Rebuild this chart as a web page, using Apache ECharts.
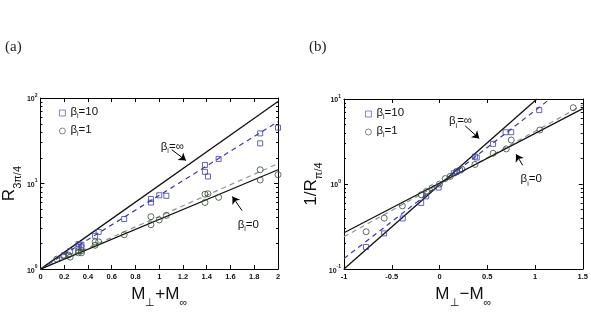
<!DOCTYPE html>
<html><head><meta charset="utf-8">
<script src="https://cdn.jsdelivr.net/npm/echarts@6/dist/echarts.min.js"></script>
<style>html,body{margin:0;padding:0;background:#fff}#c{width:591px;height:313px}</style>
</head><body><div id="c"></div>
<script>
// ---------- Panel (a) data : x = M_perp + M_inf, y = R_{3pi/4} ----------
const aSquares = [[2,45],[1.85,38.6],[1.85,29.5],[1.5,19.4],[1.385,16.5],[1.385,13.7],[1.41,12.1],
  [0.93,6.6],[0.93,6.0],[1.0,7.3],[1.06,7.2],[0.705,3.85],[0.46,2.45],[0.49,2.72],
  [0.32,1.96],[0.345,1.93],[0.32,1.8],[0.345,1.8],[0.25,1.62],[0.2,1.45]];
const aCircles = [[2,12.7],[1.85,14.5],[1.85,11.0],[1.5,6.9],[1.385,7.5],[1.41,7.6],[1.385,6.0],
  [1.06,4.25],[1.0,3.75],[0.93,4.1],[0.93,3.3],[0.705,2.52],[0.46,2.08],[0.49,2.08],[0.46,1.9],
  [0.32,1.64],[0.345,1.64],[0.345,1.55],[0.32,1.55],[0.235,1.46],[0.193,1.43],[0.137,1.31],[0.25,1.38]];
const aLineInf = [[0,1],[2,91]];
const aLine10  = [[0,1],[2,53]];
const aLine1   = [[0,1],[2,17.1]];
const aLine0   = [[0,1],[2,14.5]];
const aXTicks = [0,0.2,0.4,0.6,0.8,1,1.2,1.4,1.6,1.8,2];
const aYTicks = [1,10,100];
const aYMinor = [2,3,4,5,6,7,8,9,20,30,40,50,60,70,80,90];

// ---------- Panel (b) data : x = M_perp - M_inf, y = 1/R_{pi/4} ----------
const bSquares = [[1.044,7.4],[0.692,4.07],[0.751,4.07],[0.561,2.97],[0.371,2.1],[0.39,2.05],
  [0.215,1.45],[0.18,1.4],[0.15,1.34],[-0.009,0.91],[-0.14,0.716],[-0.192,0.6],[-0.385,0.394],
  [-0.58,0.263],[-0.77,0.182]];
const bCircles = [[1.4,7.9],[1.05,4.32],[0.751,3.29],[0.699,2.59],[0.561,2.3],[0.371,1.7],[0.233,1.5],
  [0.18,1.4],[0.112,1.23],[0.06,1.16],[0,1.0],[-0.078,0.9],[-0.137,0.82],[-0.192,0.748],
  [-0.389,0.554],[-0.579,0.397],[-0.768,0.275]];
const bLineInf = [[-1,0.1],[1.02,10]];
const bLine10  = [[-1,0.133],[1.155,10]];
const bLine1   = [[-1,0.24],[1.5,8.5]];
const bLine0   = [[-1,0.268],[1.5,7.7]];
const bXTicks = [-1,-0.5,0,0.5,1,1.5];
const bYTicks = [0.1,1,10];
const bYMinor = [0.2,0.3,0.4,0.5,0.6,0.7,0.8,0.9,2,3,4,5,6,7,8,9];

// annotations (data coordinates): label, label position, arrow start, arrow tip
const aNotes = [
  {sym:'∞', at:[1.11,30], from:[1.105,24.9], to:[1.225,18.6]},
  {sym:'0', at:[1.75,3.7], from:[1.697,4.83], to:[1.616,7.06]}];
const bNotes = [
  {sym:'∞', at:[0.22,6.1], from:[0.268,4.84], to:[0.416,3.43]},
  {sym:'0', at:[0.96,1.27], from:[0.871,1.66], to:[0.802,2.24]}];

const BLUE = '#3f3fa8', BLUEL = '#3a3ab4', GRN = '#344a34', GRAY = '#8c988c', BLK = '#111';
const FONT = 'Liberation Sans, Arial, sans-serif';

const chart = echarts.init(document.getElementById('c'), null, {renderer:'canvas'});

const betaRich = {
  b:{fontSize:11.5, fontFamily:FONT, color:'#111', verticalAlign:'top', lineHeight:14},
  i:{fontSize:7, fontFamily:FONT, color:'#111', verticalAlign:'bottom', lineHeight:14},
  e:{fontSize:11.5, fontFamily:FONT, color:'#111', verticalAlign:'top', lineHeight:14}
};
const tickRich = {
  m:{fontSize:7, fontFamily:FONT, fontWeight:'bold', color:'#111', verticalAlign:'bottom', lineHeight:10},
  p:{fontSize:5, fontFamily:FONT, fontWeight:'bold', color:'#111', verticalAlign:'top', lineHeight:10}
};
const expFmt = v => '{m|10}{p|' + Math.round(Math.log10(v)) + '}';

function xAxes(grid, min, max, ticks, name) {
  return [
    {gridIndex:grid, type:'value', position:'bottom', min, max,
     axisLine:{show:true, onZero:false, lineStyle:{color:'#000', width:1}},
     axisTick:{show:true, inside:true, length:4, customValues:ticks, lineStyle:{color:'#000'}},
     axisLabel:{show:true, customValues:ticks, margin:4, fontSize:7.5, fontWeight:'bold', fontFamily:FONT, color:'#111'},
     splitLine:{show:false},
     name, nameLocation:'middle', nameGap:9,
     nameTextStyle:{rich:{
       M:{fontSize:17, fontFamily:FONT, color:'#111', verticalAlign:'top', lineHeight:22},
       s:{fontSize:11, fontFamily:FONT, color:'#111', verticalAlign:'bottom', lineHeight:22}}}},
    {gridIndex:grid, type:'value', position:'top', min, max,
     axisLine:{show:true, onZero:false, lineStyle:{color:'#000', width:1}},
     axisTick:{show:true, inside:true, length:4, customValues:ticks, lineStyle:{color:'#000'}},
     axisLabel:{show:false}, splitLine:{show:false}}
  ];
}
function yAxes(grid, min, max, ticks, minor, name, gap) {
  const base = {gridIndex:grid, type:'log', logBase:10, min, max, splitLine:{show:false}};
  return [
    Object.assign({}, base, {position:'left',
      axisLine:{show:true, onZero:false, lineStyle:{color:'#000', width:1}},
      axisTick:{show:true, inside:true, length:4, customValues:ticks, lineStyle:{color:'#000'}},
      axisLabel:{show:true, customValues:ticks, margin:3, formatter:expFmt, rich:tickRich},
      name, nameLocation:'middle', nameGap:gap, nameRotate:90,
      nameTextStyle:{rich:{
        M:{fontSize:17, fontFamily:FONT, color:'#111', verticalAlign:'top', lineHeight:22},
        s:{fontSize:11, fontFamily:FONT, color:'#111', verticalAlign:'bottom', lineHeight:22}}}}),
    Object.assign({}, base, {position:'left', axisLine:{show:false, onZero:false},
      axisTick:{show:true, inside:true, length:2, customValues:minor, lineStyle:{color:'#000'}},
      axisLabel:{show:false}}),
    Object.assign({}, base, {position:'right',
      axisLine:{show:true, onZero:false, lineStyle:{color:'#000', width:1}},
      axisTick:{show:true, inside:true, length:4, customValues:ticks, lineStyle:{color:'#000'}},
      axisLabel:{show:false}}),
    Object.assign({}, base, {position:'right', axisLine:{show:false, onZero:false},
      axisTick:{show:true, inside:true, length:2, customValues:minor, lineStyle:{color:'#000'}},
      axisLabel:{show:false}})
  ];
}

function lineSeries(name, data, xi, yi, color, dashed, width) {
  return {name, type:'line', xAxisIndex:xi, yAxisIndex:yi, data, showSymbol:false, symbol:'none',
    clip:true, silent:true, z:2,
    lineStyle:{color, width, type: dashed ? [5,4] : 'solid'}};
}
function scatterSeries(name, data, xi, yi, symbol, size, color) {
  return {name, type:'scatter', xAxisIndex:xi, yAxisIndex:yi, data, symbol, symbolSize:size, z:3,
    itemStyle:{color:'rgba(0,0,0,0)', borderColor:color, borderWidth:1}};
}
function noteSeries(notes, xi, yi) {
  return {type:'line', xAxisIndex:xi, yAxisIndex:yi, data:[], silent:true,
    markLine:{silent:true, symbol:['none','arrow'], symbolSize:7,
      lineStyle:{color:'#000', width:1, type:'solid'}, itemStyle:{color:'#000'}, label:{show:false},
      data: notes.map(n => [{coord:n.from}, {coord:n.to}])},
    markPoint:{silent:true, symbol:'circle', symbolSize:1, itemStyle:{color:'rgba(0,0,0,0)'},
      label:{show:true, position:'inside', offset:[0,5],
        formatter: p => '{b|β}{i|i}{e|=' + p.name + '}', rich:betaRich},
      data: notes.map(n => ({name:n.sym, coord:n.at}))}};
}

const legendFmt = n => '{b|β}{i|i}{e|=' + (n.endsWith('10') ? '10' : '1') + '}';
const legendBase = {orient:'vertical', itemWidth:6, itemHeight:6, itemGap:4,
  formatter:legendFmt, textStyle:{rich:betaRich}, selectedMode:false,
  itemStyle:{borderWidth:0.8}};

const option = {
  animation:false,
  backgroundColor:'#fff',
  title:[
    {text:'(a)', left:0, top:35, textStyle:{fontFamily:'Liberation Serif, serif', fontSize:15, fontWeight:'normal', color:'#222'}},
    {text:'(b)', left:304, top:35, textStyle:{fontFamily:'Liberation Serif, serif', fontSize:15, fontWeight:'normal', color:'#222'}}
  ],
  grid:[
    {left:40, top:98, width:238, height:183},
    {left:344, top:99, width:242, height:179}
  ],
  legend:[
    Object.assign({data:['a10','a1'], left:54, top:101}, legendBase),
    Object.assign({data:['b10','b1'], left:360, top:102}, legendBase)
  ],
  xAxis:[].concat(
    xAxes(0, 0, 2, aXTicks, '{M|M}{s|⊥}{M|+M}{s|∞}'),
    xAxes(1, -1, 1.5, bXTicks, '{M|M}{s|⊥}{M|−M}{s|∞}')),
  yAxis:[].concat(
    yAxes(0, 1, 100, aYTicks, aYMinor, '{M|R}{s|3π/4}', 17),
    yAxes(1, 0.1, 10, bYTicks, bYMinor, '{M|1/R}{s|π/4}', 15)),
  series:[
    lineSeries('aInf', aLineInf, 0, 0, BLK, false, 1.3),
    lineSeries('aL10', aLine10, 0, 0, BLUEL, true, 1.2),
    lineSeries('aL1', aLine1, 0, 0, GRAY, true, 1.2),
    lineSeries('aL0', aLine0, 0, 0, BLK, false, 1.2),
    scatterSeries('a10', aSquares, 0, 0, 'rect', 5, BLUE),
    scatterSeries('a1', aCircles, 0, 0, 'circle', 6, GRN),
    noteSeries(aNotes, 0, 0),
    lineSeries('bInf', bLineInf, 2, 4, BLK, false, 1.3),
    lineSeries('bL10', bLine10, 2, 4, BLUEL, true, 1.2),
    lineSeries('bL1', bLine1, 2, 4, GRAY, true, 1.2),
    lineSeries('bL0', bLine0, 2, 4, BLK, false, 1.2),
    scatterSeries('b10', bSquares, 2, 4, 'rect', 5, BLUE),
    scatterSeries('b1', bCircles, 2, 4, 'circle', 6, GRN),
    noteSeries(bNotes, 2, 4)
  ]
};
chart.setOption(option);
</script></body></html>
